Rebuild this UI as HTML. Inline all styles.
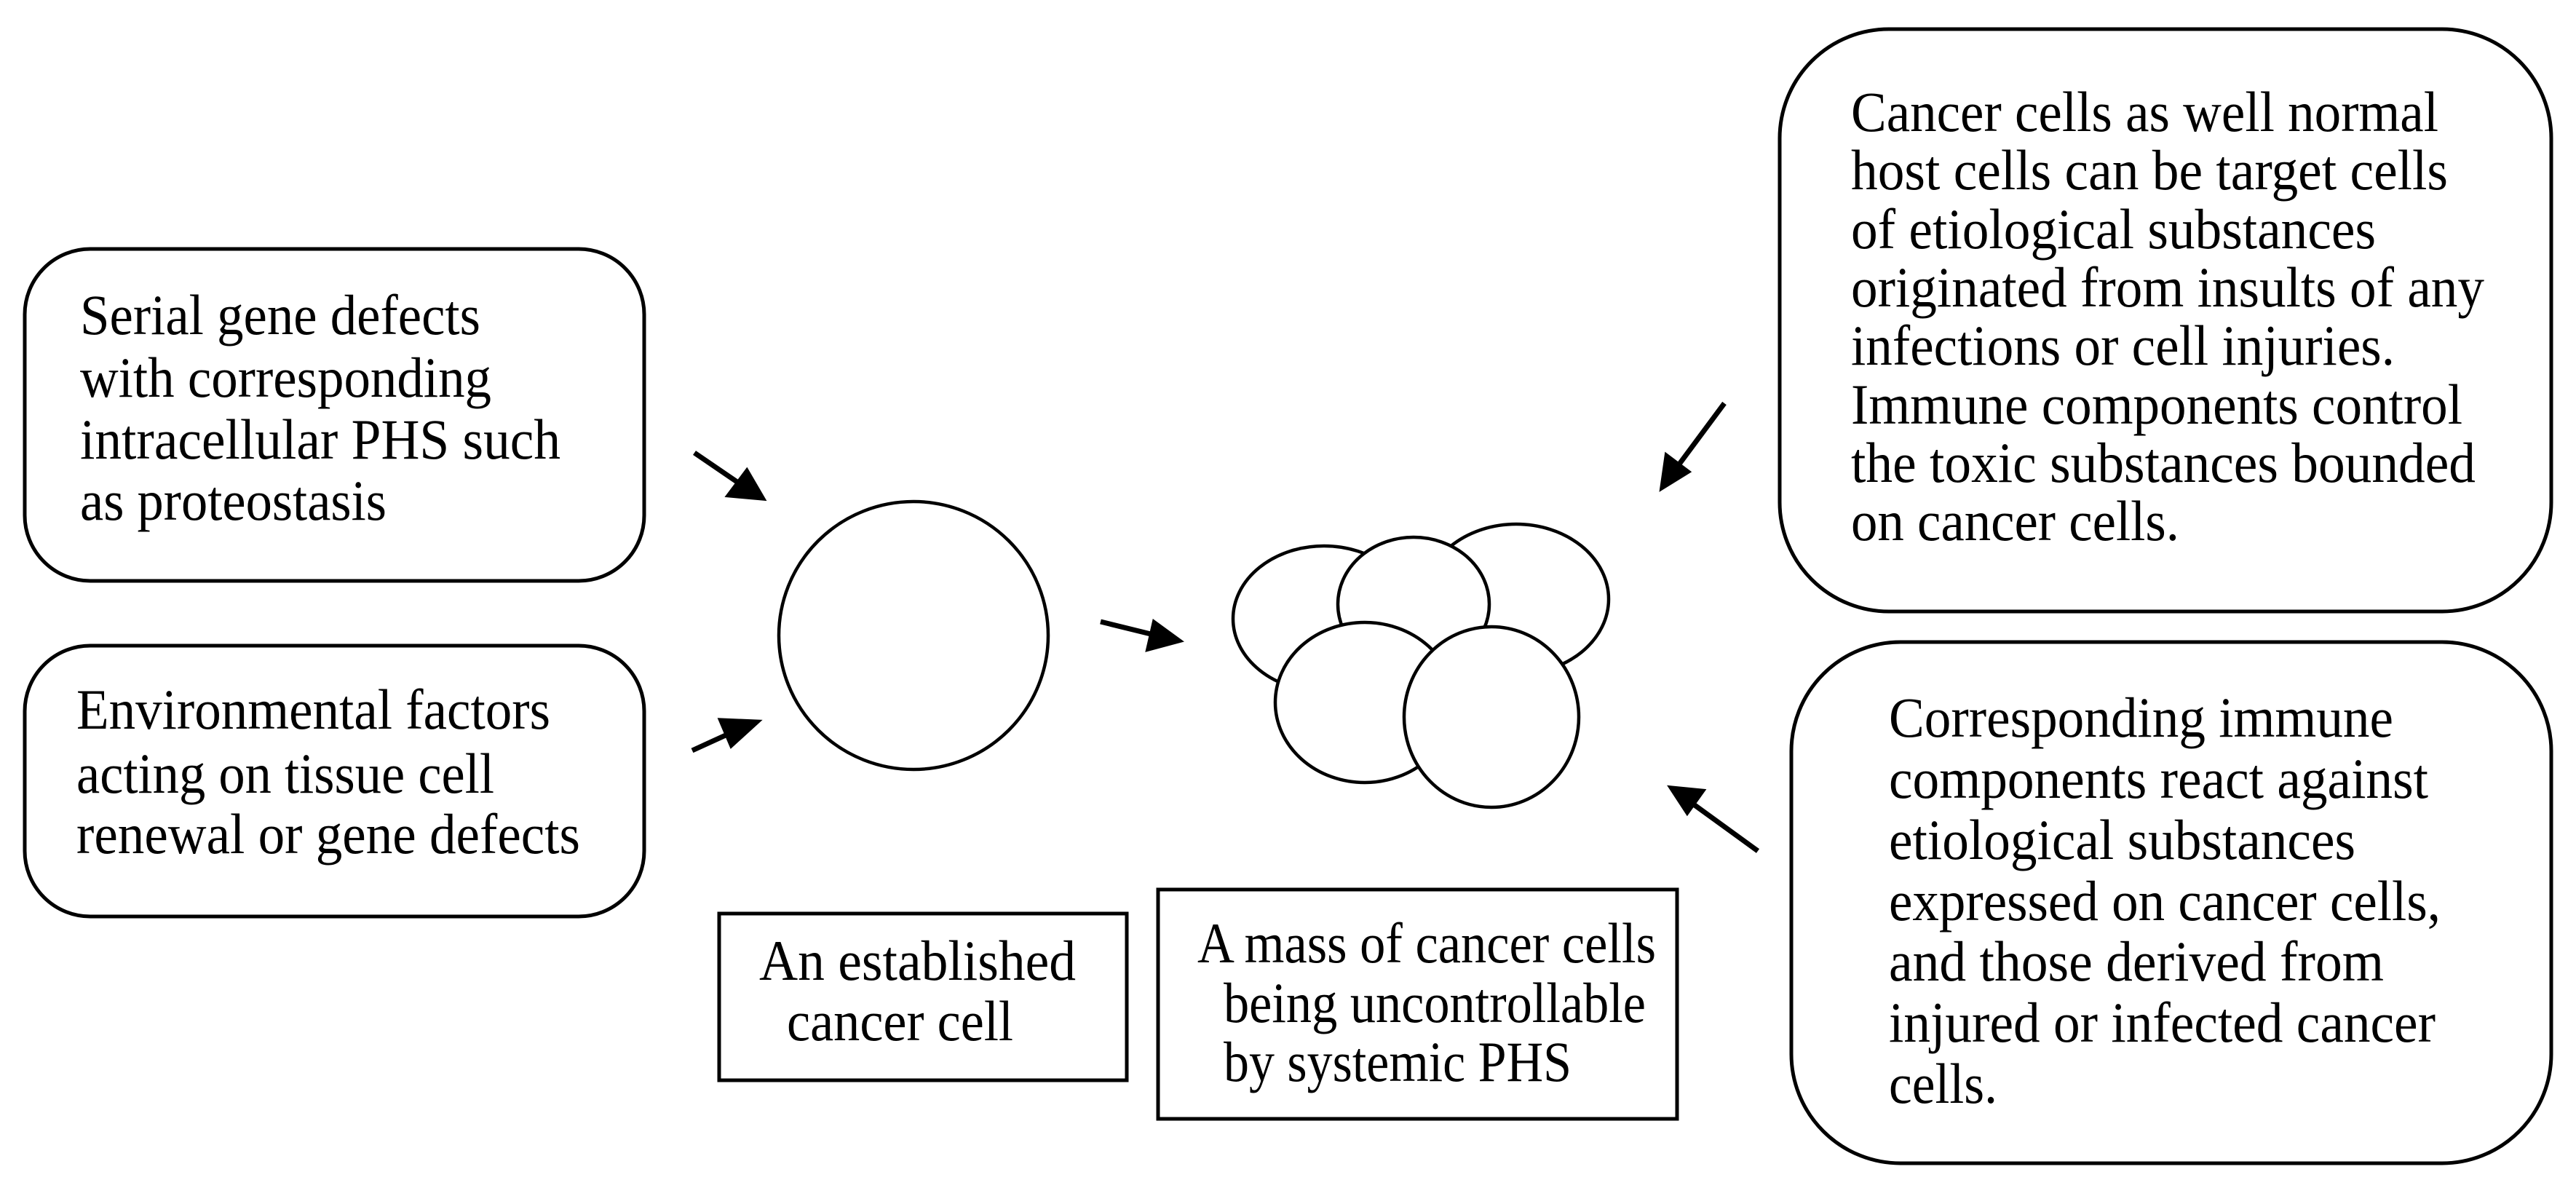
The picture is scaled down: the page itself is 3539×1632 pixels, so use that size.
<!DOCTYPE html>
<html><head><meta charset="utf-8"><style>
html,body{margin:0;padding:0;background:#fff;}
svg{display:block;}
text{font-family:"Liberation Serif",serif;font-size:78px;fill:#000;}
</style></head><body>
<svg width="3539" height="1632" viewBox="0 0 3539 1632" xmlns="http://www.w3.org/2000/svg">
<g fill="none" stroke="#000" stroke-width="5">
<rect x="34" y="342" width="851" height="456" rx="90" ry="90"/>
<rect x="34" y="887" width="851" height="372" rx="90" ry="90"/>
<rect x="2445" y="40" width="1060" height="800" rx="150" ry="150"/>
<rect x="2461" y="882" width="1044" height="716" rx="150" ry="150"/>
<rect x="988" y="1255" width="560" height="229"/>
<rect x="1591" y="1222" width="713" height="315"/>
<ellipse cx="1255" cy="873" rx="185" ry="184" stroke-width="4.5"/>
</g>
<g fill="#fff" stroke="#000" stroke-width="4.5">
<ellipse cx="1819" cy="850" rx="125" ry="100"/>
<ellipse cx="2083" cy="823" rx="127" ry="103"/>
<ellipse cx="1942" cy="830" rx="104" ry="92"/>
<ellipse cx="1875" cy="965" rx="123" ry="110"/>
<ellipse cx="2049" cy="985" rx="120" ry="124"/>
</g>
<g stroke="#000" stroke-width="7" fill="#000">
<line x1="954" y1="622" x2="1020" y2="667"/><polygon points="1047,684 1002,680 1026,648"/>
<line x1="951" y1="1031" x2="1010" y2="1004"/><polygon points="1039,992 1005,1023 991,990" />
<line x1="1512" y1="854" x2="1585" y2="872"/><polygon points="1619,880 1578,891 1586,856"/>
<line x1="2369" y1="554" x2="2303" y2="643"/><polygon points="2284,669 2290,627 2318,648"/>
<line x1="2415" y1="1169" x2="2324" y2="1103"/><polygon points="2297,1083 2338,1087 2318,1115"/>
</g>
<text x="110" y="459" textLength="550" lengthAdjust="spacingAndGlyphs">Serial gene defects</text>
<text x="110" y="545" textLength="565" lengthAdjust="spacingAndGlyphs">with corresponding</text>
<text x="110" y="630" textLength="660" lengthAdjust="spacingAndGlyphs">intracellular PHS such</text>
<text x="110" y="714" textLength="421" lengthAdjust="spacingAndGlyphs">as proteostasis</text>
<text x="105" y="1001" textLength="651" lengthAdjust="spacingAndGlyphs">Environmental factors</text>
<text x="105" y="1089" textLength="574" lengthAdjust="spacingAndGlyphs">acting on tissue cell</text>
<text x="105" y="1172" textLength="692" lengthAdjust="spacingAndGlyphs">renewal or gene defects</text>
<text x="1043" y="1346" textLength="435" lengthAdjust="spacingAndGlyphs">An established</text>
<text x="1081" y="1429" textLength="311" lengthAdjust="spacingAndGlyphs">cancer cell</text>
<text x="1645" y="1322" textLength="630" lengthAdjust="spacingAndGlyphs">A mass of cancer cells</text>
<text x="1681" y="1404" textLength="580" lengthAdjust="spacingAndGlyphs">being uncontrollable</text>
<text x="1681" y="1485" textLength="478" lengthAdjust="spacingAndGlyphs">by systemic PHS</text>
<text x="2543" y="180" textLength="807" lengthAdjust="spacingAndGlyphs">Cancer cells as well normal</text>
<text x="2543" y="260" textLength="820" lengthAdjust="spacingAndGlyphs">host cells can be target cells</text>
<text x="2543" y="341" textLength="721" lengthAdjust="spacingAndGlyphs">of etiological substances</text>
<text x="2543" y="421" textLength="870" lengthAdjust="spacingAndGlyphs">originated from insults of any</text>
<text x="2543" y="501" textLength="747" lengthAdjust="spacingAndGlyphs">infections or cell injuries.</text>
<text x="2543" y="582" textLength="840" lengthAdjust="spacingAndGlyphs">Immune components control</text>
<text x="2543" y="662" textLength="858" lengthAdjust="spacingAndGlyphs">the toxic substances bounded</text>
<text x="2543" y="742" textLength="451" lengthAdjust="spacingAndGlyphs">on cancer cells.</text>
<text x="2595" y="1012" textLength="693" lengthAdjust="spacingAndGlyphs">Corresponding immune</text>
<text x="2595" y="1096" textLength="741" lengthAdjust="spacingAndGlyphs">components react against</text>
<text x="2595" y="1180" textLength="641" lengthAdjust="spacingAndGlyphs">etiological substances</text>
<text x="2595" y="1264" textLength="758" lengthAdjust="spacingAndGlyphs">expressed on cancer cells,</text>
<text x="2595" y="1347" textLength="680" lengthAdjust="spacingAndGlyphs">and those derived from</text>
<text x="2595" y="1431" textLength="751" lengthAdjust="spacingAndGlyphs">injured or infected cancer</text>
<text x="2595" y="1515" textLength="149" lengthAdjust="spacingAndGlyphs">cells.</text>
</svg>
</body></html>
